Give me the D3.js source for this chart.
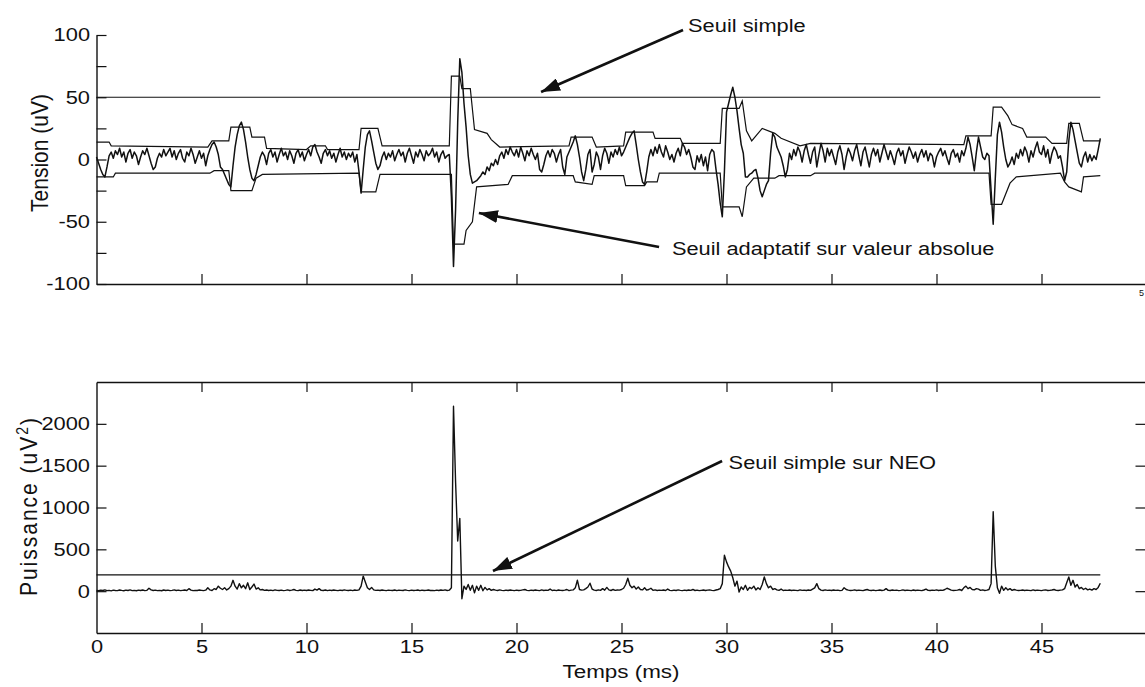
<!DOCTYPE html>
<html>
<head>
<meta charset="utf-8">
<script src="https://cdn.jsdelivr.net/npm/d3@7"></script>
<style>
  body { margin: 0; background: #fff; }
  text { font-family: "Liberation Sans", Arial, Helvetica, sans-serif; fill: #111; }
</style>
</head>
<body>
<div id="chart"></div>
<script>
// sampling step of the traces (ms)
const sampleStep = 0.1;

// raw signal, uV, one row per ms
const tension = [
    2, -3, -8, -12, -14, -6, 3, 6, 1, 7,
    4, 9, 2, 6, -2, 5, 8, 1, 6, 3,
    -4, 2, 7, 4, 9, 3, -3, -8, -6, 1,
    5, 2, 8, 3, 6, 9, 2, 7, 0, 5,
    8, 1, -2, 6, 3, 9, 4, -3, 2, 7,
    1, 5, -5, 3, 8, 12, 14, 10, 4, -6,
    -8, -12, -16, -20, -22, -5, 10, 20, 27, 30,
    24, 14, 2, -8, -15, -17, -12, -5, 2, 6,
    3, -4, 5, 8, 2, 6, -2, 4, 9, 3,
    6, 0, 7, 3, -3, 5, 8, 2, 6, -1,
    4, 8, 3, 10, 12, 6, 2, -3, 5, 8,
    3, 7, 1, 5, -2, 4, 9, 2, 6, 0,
    5, 2, 6, -2, 4, -10, -27, -8, 10, 20,
    23, 15, 6, -3, -8, -5, 2, 6, 0, 5,
    2, 7, -1, 4, 8, 3, 6, -2, 5, 9,
    3, -3, 6, 2, 8, 4, -1, 7, 3, 5,
    9, 2, 6, -2, 4, 7, 1, 3, 4, -30,
    -86, -40, 30, 81, 70, 45, 26, 3, -12, -19,
    -18, -17, -15, -13, -10, -12, -6, -9, -3, -5,
    0, -4, 3, 6, 1, 8, 4, 10, 6, 3,
    8, 2, 10, 5, -1, 7, 3, 9, 4, 0,
    5, -8, -10, -4, 3, 7, 2, 8, 5, -2,
    4, 8, -6, -12, 2, 6, 10, 14, 19, 12,
    2, -10, -17, -8, 4, 8, -10, -4, 6, 2,
    -8, 3, 9, 5, -3, 6, 2, 8, 4, 10,
    3, 6, 10, 14, 18, 21, 23, 12, 0, -10,
    -18, -20, -10, 2, 8, 3, 10, 5, 12, 6,
    2, 11, 6, 0, 4, -2, 5, 9, 3, 13,
    10, 4, 8, 2, -6, -8, 3, -2, 4, -5,
    2, -9, 4, 8, 6, -8, -20, -35, -46, -10,
    38, 45, 52, 58, 50, 39, 25, 12, 5, -14,
    -14, -12, -11, -9, -8, -15, -25, -30, -25, -20,
    -17, 5, 21, 18, 10, 6, 2, -5, -14, -8,
    5, 0, 8, 3, 10, 6, -2, 7, 12, 4,
    -3, 6, 10, -6, 4, 13, 7, -2, 9, 3,
    8, 2, -4, 6, 11, 4, -8, 2, 9, 5,
    -1, 7, 12, 3, -5, 6, 10, 2, -6, 4,
    9, 3, 8, -2, 5, 12, 6, 0, 7, 2,
    -4, 5, 9, 3, 7, -3, 4, 10, 6, 1,
    6, -2, 4, 8, 2, 7, -1, 5, 3, -6,
    2, 6, 9, 3, 7, 1, -4, 5, 8, 2,
    5, -2, 7, 3, 9, 18, 12, 2, -9, 6,
    18, 10, 2, 0, 5, 3, -25, -52, -15, 20,
    30, 22, 10, 0, -6, -3, 2, -4, 5, 1,
    8, 3, 10, 6, -2, 7, 2, 9, 14, 6,
    4, 11, 2, 8, -3, 5, 10, 7, 1, 3,
    -6, -17, -10, 15, 30, 24, 15, 6, -3, -6,
    2, 6, -2, 4, -1, 3, 0, 8, 17
];

// NEO output, uV^2, same sampling
const neo = [
    10, 5, 12, 8, 15, 6, 10, 4, 12, 8,
    6, 14, 9, 5, 12, 8, 15, 7, 10, 5,
    12, 8, 14, 6, 10, 35, 15, 8, 12, 6,
    10, 5, 14, 8, 12, 6, 10, 15, 8, 12,
    6, 10, 14, 8, 30, 12, 6, 10, 8, 14,
    10, 6, 12, 40, 15, 8, 30, 20, 60, 35,
    20, 40, 15, 30, 60, 130, 60, 25, 90, 40,
    70, 30, 100, 20, 50, 85, 25, 40, 15, 20,
    10, 14, 8, 12, 6, 15, 10, 8, 12, 6,
    10, 15, 8, 12, 20, 10, 6, 14, 8, 12,
    8, 14, 10, 6, 25, 12, 30, 10, 8, 14,
    6, 12, 8, 14, 10, 6, 12, 8, 15, 10,
    8, 12, 6, 14, 10, 15, 60, 180, 110, 40,
    20, 45, 15, 10, 12, 8, 14, 10, 6, 12,
    10, 8, 14, 6, 12, 10, 8, 15, 10, 6,
    12, 8, 10, 14, 6, 12, 8, 10, 14, 8,
    10, 6, 12, 8, 14, 10, 15, 8, 12, 40,
    2210, 1300, 600, 870, -90, 60, 20, 80, 10, 70,
    -20, 60, 10, 70, 5, 45, 15, 30, 10, 20,
    12, 8, 15, 10, 6, 12, 8, 14, 10, 6,
    12, 8, 10, 15, 20, 10, 6, 12, 8, 14,
    10, 6, 15, 8, 12, 10, 25, 8, 12, 6,
    14, 10, 8, 12, 20, 6, 12, 15, 40, 130,
    20, 12, 15, 30, 50, 95, 25, 12, 8, 15,
    10, 30, 12, 45, 15, 8, 20, 10, 14, 12,
    20, 35, 80, 155, 70, 40, 60, 25, 50, 20,
    15, 40, 12, 20, 35, 10, 15, 8, 12, 10,
    14, 8, 25, 10, 6, 12, 8, 15, 10, 6,
    12, 8, 14, 10, 20, 8, 12, 6, 10, 14,
    8, 12, 15, 10, 6, 14, 20, 30, 90, 430,
    350, 290, 240, 160, 60, 120, -10, 50, 20, 70,
    10, 45, 30, 60, 15, 40, 20, 80, 170, 90,
    40, 60, 20, 30, 15, 10, 25, 8, 12, 10,
    14, 8, 12, 10, 6, 15, 10, 12, 8, 14,
    10, 25, 40, 90, 30, 12, 8, 15, 10, 12,
    8, 14, 10, 12, 6, 10, 40, 20, 12, 8,
    10, 15, 8, 12, 10, 6, 14, 20, 10, 8,
    12, 6, 10, 14, 8, 12, 30, 10, 8, 14,
    10, 12, 6, 10, 15, 8, 12, 10, 6, 14,
    8, 12, 10, 6, 14, 25, 10, 8, 12, 10,
    15, 8, 12, 10, 20, 35, 25, 12, 8, 10,
    12, 20, 8, 40, 60, 30, 45, 20, 15, 30,
    25, 10, 15, 8, 12, 20, 90, 950, 300, 40,
    -25, 60, 10, 40, 15, 30, 10, 20, 12, 8,
    10, 14, 8, 12, 10, 6, 15, 8, 12, 10,
    6, 12, 15, 8, 10, 14, 20, 10, 8, 12,
    15, 30, 100, 170, 70, 130, 50, 80, 30, 45,
    20, 35, 15, 25, 12, 30, 20, 45, 95
];

// adaptive threshold on absolute value: breakpoints (ms) and levels (uV)
const upperEnvT = [0, 0.6, 0.7, 5.3, 5.5, 6.3, 6.4, 7.3, 7.4, 8.0,
    8.1, 10.0, 10.2, 10.9, 11.0, 12.5, 12.6, 13.4, 13.6, 16.8,
    16.9, 17.3, 17.4, 17.8, 18.0, 18.6, 18.8, 19.2, 22.5, 22.6,
    23.6, 23.8, 25.1, 25.2, 26.5, 26.6, 27.8, 27.9, 29.7, 29.8,
    30.6, 30.75, 30.95, 31.2, 31.7, 32.3, 32.6, 33.5, 34.0, 41.3,
    41.4, 42.6, 42.7, 43.1, 43.4, 43.6, 44.1, 44.3, 45.2, 45.5,
    46.2, 46.3, 46.8, 47.0, 47.8];
const upperEnvV = [14, 14, 11, 10, 15, 15, 26, 26, 18, 18,
    9, 8, 11, 11, 8, 8, 25, 25, 11, 11,
    67, 67, 57, 57, 24, 21, 16, 10, 11, 18,
    18, 10, 11, 22, 22, 17, 17, 13, 13, 41,
    41, 47, 23, 15, 25, 21, 17, 11, 13, 12,
    19, 19, 42, 42, 35, 28, 25, 18, 18, 13,
    13, 29, 29, 15, 15];
const lowerEnvT = [0, 0.8, 0.9, 5.4, 5.6, 6.3, 6.4, 7.4, 7.6, 7.9,
    12.5, 12.6, 13.3, 13.5, 16.9, 17.0, 17.5, 17.6, 17.9, 18.1,
    19.6, 19.8, 22.7, 22.8, 23.6, 23.7, 25.1, 25.2, 26.1, 26.2,
    26.7, 26.8, 29.7, 29.8, 30.6, 30.75, 30.95, 31.3, 32.3, 32.5,
    34.0, 34.2, 42.5, 42.6, 43.1, 43.5, 43.8, 45.9, 46.1, 46.3,
    46.9, 47.0, 47.8];
const lowerEnvV = [-14, -14, -11, -11, -9, -9, -25, -25, -15, -12,
    -11, -26, -26, -12, -12, -68, -68, -57, -50, -22,
    -20, -13, -13, -18, -20, -13, -13, -21, -21, -18,
    -18, -11, -11, -38, -38, -46, -22, -15, -15, -13,
    -13, -11, -11, -36, -36, -19, -14, -11, -18, -22,
    -26, -14, -13];

const simpleThreshold = 50;   // uV
const neoThreshold = 195;     // uV^2

const timeTicks = [5, 10, 15, 20, 25, 30, 35, 40, 45];
const timeLabels = [0, 5, 10, 15, 20, 25, 30, 35, 40, 45];
const tensionTicks = [-100, -75, -50, -25, 0, 25, 50, 75, 100];
const tensionLabels = [-100, -50, 0, 50, 100];
const neoTicks = [0, 500, 1000, 1500, 2000];

const SX = 1.18; // the scan is a bit wider than tall

const width = 1145, height = 687;
const svg = d3.select("#chart").append("svg")
              .attr("width", width)
              .attr("height", height);

const x = d3.scaleLinear().domain([0, 50]).range([96.5, 1146.5]);
const yT = d3.scaleLinear().domain([-100, 100]).range([284, 35]);
const yN = d3.scaleLinear().domain([-500, 2500]).range([633, 382]);

const ink = "#111";

const styleAxis = (g, size) => {
    g.attr("font-family", null).attr("font-size", null);
    g.select(".domain").attr("stroke", ink).attr("stroke-width", 1.4);
    g.selectAll(".tick line").attr("stroke", ink).attr("stroke-width", 1.2);
    g.selectAll(".tick text")
     .attr("fill", ink)
     .style("font-size", size + "px")
     .attr("x", function () { return (+d3.select(this).attr("x") || 0) / SX; })
     .attr("transform", `scale(${SX},1)`);
};

const label = (x0, y0, str, size, anchor = "start") =>
    svg.append("text")
       .attr("transform", `translate(${x0},${y0}) scale(${SX},1)`)
       .attr("text-anchor", anchor)
       .style("font-size", size + "px")
       .text(str);

// ---------- top panel ----------
const topLeft = svg.append("g").attr("transform", `translate(${x(0)},0)`)
    .call(d3.axisLeft(yT).tickValues(tensionTicks)
            .tickSizeInner(-10).tickSizeOuter(0).tickPadding(6.5)
            .tickFormat(d => tensionLabels.includes(d) ? d : ""));
styleAxis(topLeft, 18.5);

const topBottom = svg.append("g").attr("transform", `translate(0,${yT(-100)})`)
    .call(d3.axisBottom(x).tickValues(timeTicks.concat([50]))
            .tickSizeInner(-10).tickSizeOuter(0).tickFormat(""));
styleAxis(topBottom, 10);
// the only part of the "50" label that shows at the right edge
svg.append("text").attr("x", 1139).attr("y", 296).style("font-size", "9px").text("5");

const series = (t, v) => t.map((d, i) => ({t: d, v: v[i]}));
const samples = arr => arr.map((v, i) => ({t: i * sampleStep, v: v}));
const tEnd = (tension.length - 1) * sampleStep;

const lineT = d3.line().x(d => x(d.t)).y(d => yT(d.v));
const lineN = d3.line().x(d => x(d.t)).y(d => yN(d.v));

svg.append("path").datum([{t: 0, v: simpleThreshold}, {t: tEnd, v: simpleThreshold}])
   .attr("d", lineT).attr("fill", "none").attr("stroke", ink).attr("stroke-width", 1.1);
svg.append("path").datum(series(upperEnvT, upperEnvV))
   .attr("d", lineT).attr("fill", "none").attr("stroke", ink).attr("stroke-width", 1.2);
svg.append("path").datum(series(lowerEnvT, lowerEnvV))
   .attr("d", lineT).attr("fill", "none").attr("stroke", ink).attr("stroke-width", 1.2);
svg.append("path").datum(samples(tension))
   .attr("d", lineT).attr("fill", "none").attr("stroke", ink)
   .attr("stroke-width", 1.5).attr("stroke-linejoin", "round");

svg.append("text")
   .attr("transform", `translate(48,153) scale(${SX},1) rotate(-90)`)
   .attr("text-anchor", "middle").style("font-size", "21px")
   .text("Tension (uV)");

// ---------- bottom panel ----------
const botLeft = svg.append("g").attr("transform", `translate(${x(0)},0)`)
    .call(d3.axisLeft(yN).tickValues(neoTicks)
            .tickSizeInner(-10).tickSizeOuter(0).tickPadding(6.5)
            .tickFormat(d3.format("d")));
styleAxis(botLeft, 18.5);
const botRight = svg.append("g").attr("transform", `translate(${x(50)},0)`)
    .call(d3.axisRight(yN).tickValues(neoTicks)
            .tickSizeInner(-11).tickSizeOuter(0).tickFormat(""));
styleAxis(botRight, 10);
const botTop = svg.append("g").attr("transform", `translate(0,${yN(2500)})`)
    .call(d3.axisTop(x).tickValues(timeTicks)
            .tickSizeInner(-10).tickSizeOuter(0).tickFormat(""));
styleAxis(botTop, 10);
const botBottom = svg.append("g").attr("transform", `translate(0,${yN(-500)})`)
    .call(d3.axisBottom(x).tickValues(timeLabels)
            .tickSizeInner(-10).tickSizeOuter(0).tickPadding(7));
styleAxis(botBottom, 18.5);
botBottom.selectAll(".tick").filter(d => d === 0).select("line").remove();

svg.append("path").datum([{t: 0, v: neoThreshold}, {t: tEnd, v: neoThreshold}])
   .attr("d", lineN).attr("fill", "none").attr("stroke", ink).attr("stroke-width", 1.1);
svg.append("path").datum(samples(neo))
   .attr("d", lineN).attr("fill", "none").attr("stroke", ink)
   .attr("stroke-width", 1.4).attr("stroke-linejoin", "round");

const puis = svg.append("text")
   .attr("transform", `translate(37,506) scale(${SX},1) rotate(-90)`)
   .attr("text-anchor", "middle").style("font-size", "21px")
   .style("letter-spacing", "2px");
puis.append("tspan").text("Puissance (uV");
puis.append("tspan").attr("dy", -8).style("font-size", "14px").text("2");
puis.append("tspan").attr("dy", 8).text(")");

label(621, 678, "Temps (ms)", 19, "middle");

// ---------- annotations ----------
svg.append("defs").append("marker")
   .attr("id", "head").attr("viewBox", "-19 -6.5 19 13")
   .attr("refX", 0).attr("refY", 0)
   .attr("markerWidth", 19).attr("markerHeight", 13)
   .attr("markerUnits", "userSpaceOnUse").attr("orient", "auto")
   .append("path").attr("d", "M0,0L-19,-6.5L-19,6.5Z").attr("fill", ink);

const arrow = (x1, y1, x2, y2) =>
    svg.append("line").attr("x1", x1).attr("y1", y1).attr("x2", x2).attr("y2", y2)
       .attr("stroke", ink).attr("stroke-width", 2.6).attr("marker-end", "url(#head)");

// [tail t, tail v, tip t, tip v, text t, text v]
const noteSimple = [27.93, 104, 21.17, 54.2, 28.17, 102.4];
const noteAdapt = [26.79, -70.3, 18.21, -43, 27.4, -76.7];
const noteNeo = [29.79, 1556, 18.88, 241, 30.1, 1460];

arrow(x(noteSimple[0]), yT(noteSimple[1]), x(noteSimple[2]), yT(noteSimple[3]));
label(x(noteSimple[4]), yT(noteSimple[5]), "Seuil simple", 18.5);
arrow(x(noteAdapt[0]), yT(noteAdapt[1]), x(noteAdapt[2]), yT(noteAdapt[3]));
label(x(noteAdapt[4]), yT(noteAdapt[5]), "Seuil adaptatif sur valeur absolue", 18.5);
arrow(x(noteNeo[0]), yN(noteNeo[1]), x(noteNeo[2]), yN(noteNeo[3]));
label(x(noteNeo[4]), yN(noteNeo[5]), "Seuil simple sur NEO", 18.5);
</script>
</body>
</html>
